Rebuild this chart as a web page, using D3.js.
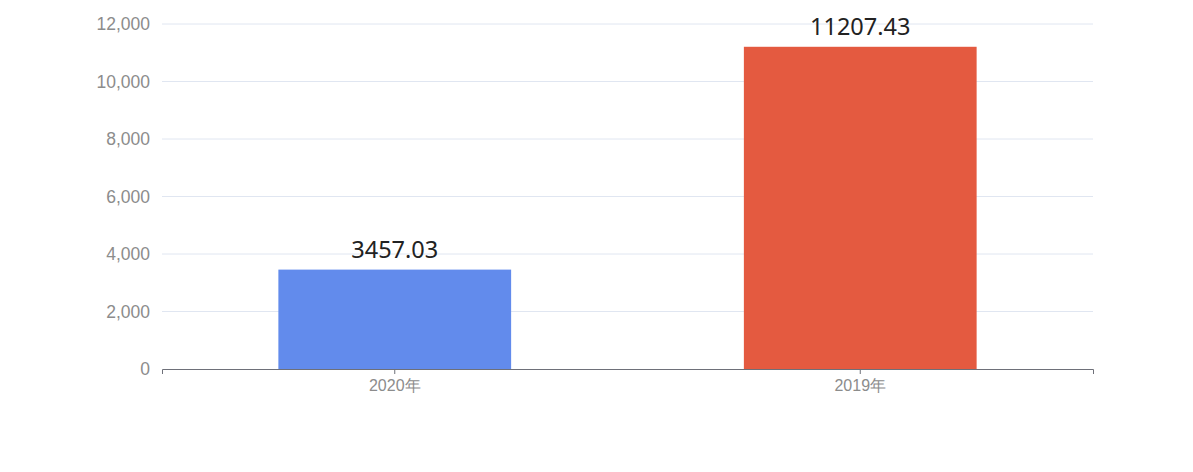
<!DOCTYPE html>
<html><head><meta charset="utf-8">
<script src="https://cdn.jsdelivr.net/npm/d3@7"></script>
<style>body{margin:0;background:#fff;}svg{display:block;font-family:"Noto Sans","DejaVu Sans",sans-serif;}</style>
</head><body>
<svg id="c" width="1193" height="472"></svg>
<script>
const categories = ["2020年", "2019年"];
const values = [3457.03, 11207.43];
const colors = ["#628bec", "#e45a40"];
const yTicks = [0, 2000, 4000, 6000, 8000, 10000, 12000];

const svg = d3.select("#c");
const m = {left: 162, right: 100, top: 24, bottom: 103};
const W = 1193, H = 472;
const x = d3.scaleBand().domain(categories).range([m.left, W - m.right]);
const y = d3.scaleLinear().domain([0, 12000]).range([H - m.bottom, m.top]);

svg.append("g").selectAll("line").data(yTicks.slice(1)).join("line")
  .attr("x1", m.left).attr("x2", W - m.right)
  .attr("y1", d => y(d)).attr("y2", d => y(d))
  .attr("stroke", "#e0e6f1");

const ya = svg.append("g").attr("transform", `translate(${m.left},0)`)
  .call(d3.axisLeft(y).tickValues(yTicks).tickSize(0).tickPadding(12).tickFormat(d3.format(",")));
ya.select(".domain").remove();
ya.selectAll("text").attr("fill", "#8c8c8c").style("font-size", "17.5px");

const bw = x.bandwidth() * 0.5;
svg.append("g").selectAll("rect").data(values).join("rect")
  .attr("x", (d, i) => x(categories[i]) + (x.bandwidth() - bw) / 2)
  .attr("width", bw)
  .attr("y", d => y(d))
  .attr("height", d => y(0) - y(d))
  .attr("fill", (d, i) => colors[i]);

svg.append("g").selectAll("text").data(values).join("text")
  .attr("x", (d, i) => x(categories[i]) + x.bandwidth() / 2)
  .attr("y", d => y(d) - 12)
  .attr("text-anchor", "middle")
  .attr("fill", "#222")
  .style("font-size", "23.5px")
  .text(d => d.toFixed(2));

const xa = svg.append("g").attr("transform", `translate(0,${y(0)})`)
  .call(d3.axisBottom(x).tickSize(5).tickPadding(6));
xa.select(".domain").attr("stroke", "#6e7079");
xa.selectAll("line").attr("stroke", "#6e7079");
xa.selectAll("text").attr("fill", "#8c8c8c").style("font-size", "16px");
</script>
</body></html>
